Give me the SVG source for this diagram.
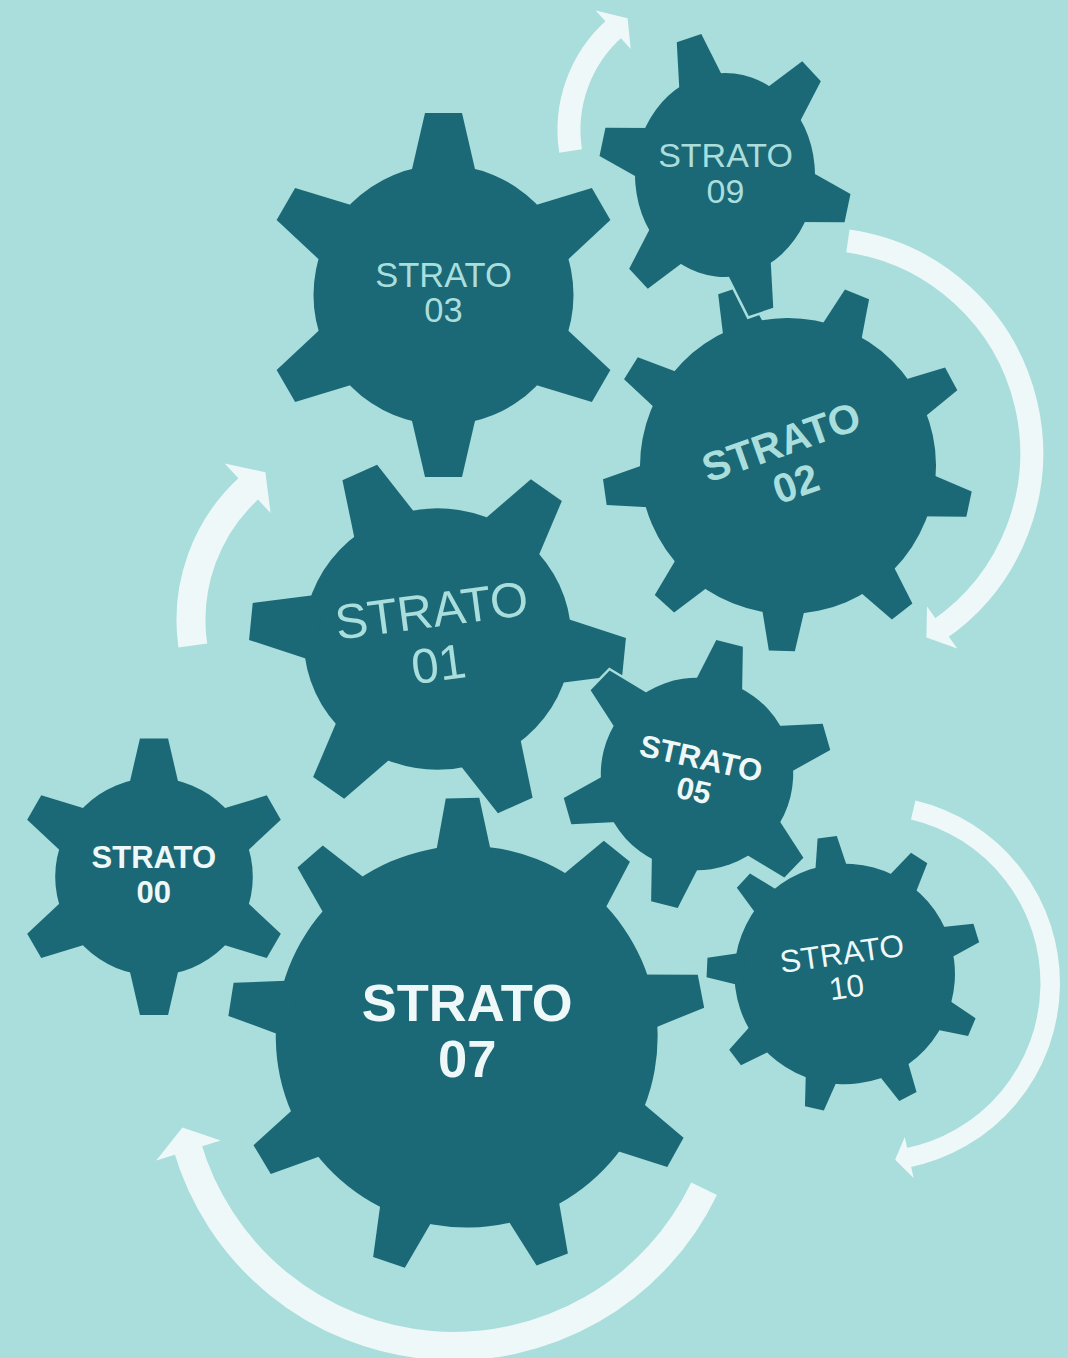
<svg xmlns="http://www.w3.org/2000/svg" width="1068" height="1358" viewBox="0 0 1068 1358">
<style>
.bg{fill:#a9dedc}
.gear-o{fill:#1b6876;stroke:#a9dedc;stroke-width:5}
.gear-f{fill:#1b6876;stroke:none}
.band{fill:none;stroke:#eef8f8;stroke-linecap:butt}
.head{fill:#eef8f8;stroke:none}
.t{font-family:"Liberation Sans",Arial,Helvetica,sans-serif;text-anchor:middle}
.lt{fill:#a9dedc}
.wt{fill:#eef8f8}
.b{font-weight:bold}
</style>
<defs>
<g id="g6">
<circle r="130" vector-effect="non-scaling-stroke"/>
<polygon points="-34,-115 -18.5,-182 18.5,-182 34,-115" vector-effect="non-scaling-stroke"/>
<polygon points="-34,-115 -18.5,-182 18.5,-182 34,-115" transform="rotate(60)" vector-effect="non-scaling-stroke"/>
<polygon points="-34,-115 -18.5,-182 18.5,-182 34,-115" transform="rotate(120)" vector-effect="non-scaling-stroke"/>
<polygon points="-34,-115 -18.5,-182 18.5,-182 34,-115" transform="rotate(180)" vector-effect="non-scaling-stroke"/>
<polygon points="-34,-115 -18.5,-182 18.5,-182 34,-115" transform="rotate(240)" vector-effect="non-scaling-stroke"/>
<polygon points="-34,-115 -18.5,-182 18.5,-182 34,-115" transform="rotate(300)" vector-effect="non-scaling-stroke"/>
</g>
<g id="g9">
<circle r="148" vector-effect="non-scaling-stroke"/>
<polygon points="-22.9,-135 -13,-185 13,-185 22.9,-135" vector-effect="non-scaling-stroke"/>
<polygon points="-22.9,-135 -13,-185 13,-185 22.9,-135" transform="rotate(40)" vector-effect="non-scaling-stroke"/>
<polygon points="-22.9,-135 -13,-185 13,-185 22.9,-135" transform="rotate(80)" vector-effect="non-scaling-stroke"/>
<polygon points="-22.9,-135 -13,-185 13,-185 22.9,-135" transform="rotate(120)" vector-effect="non-scaling-stroke"/>
<polygon points="-22.9,-135 -13,-185 13,-185 22.9,-135" transform="rotate(160)" vector-effect="non-scaling-stroke"/>
<polygon points="-22.9,-135 -13,-185 13,-185 22.9,-135" transform="rotate(200)" vector-effect="non-scaling-stroke"/>
<polygon points="-22.9,-135 -13,-185 13,-185 22.9,-135" transform="rotate(240)" vector-effect="non-scaling-stroke"/>
<polygon points="-22.9,-135 -13,-185 13,-185 22.9,-135" transform="rotate(280)" vector-effect="non-scaling-stroke"/>
<polygon points="-22.9,-135 -13,-185 13,-185 22.9,-135" transform="rotate(320)" vector-effect="non-scaling-stroke"/>
</g>
</defs>
<rect class="bg" x="0" y="0" width="1068" height="1358"/>

<g id="connectors">
<path class="band" stroke-width="23" d="M570.6,151 A136,136 0 0 1 614.9,28.1"/>
<polygon class="head" points="595.6,10.6 627.6,18.2 630.7,48.9"/>
<path class="band" stroke-width="23" d="M847.9,240.9 A214.4,214.4 0 0 1 939,629.6"/>
<polygon class="head" points="927,606.4 926.4,637.6 957.3,648.6"/>
<path class="band" stroke-width="29" d="M192.8,645.5 A179,179 0 0 1 250.5,486.8"/>
<polygon class="head" points="224.7,463.6 265.4,472.3 270.6,513.1"/>
<path class="band" stroke-width="19.5" d="M913.2,810 A178.1,178.1 0 0 1 906.2,1158.1"/>
<polygon class="head" points="904.8,1136.9 895.1,1159.8 913.6,1177.9"/>
<path class="band" stroke-width="28.5" d="M704.1,1188.8 A277.8,277.8 0 0 1 187,1145.8"/>
<polygon class="head" points="220.7,1140.5 182.4,1127.5 156.2,1160.4"/>
</g>

<g id="gear-03" transform="translate(443.5,295)">
<use href="#g6" class="gear-o"/>
<use href="#g6" class="gear-f"/>
<text class="t lt" font-size="34.5" x="0" y="-8.3">STRATO</text>
<text class="t lt" font-size="34.5" x="0" y="27.3">03</text>
</g>

<g id="gear-02" transform="translate(788,466)">
<use href="#g9" class="gear-o" transform="rotate(21.9)"/>
<use href="#g9" class="gear-f" transform="rotate(21.9)"/>
<g transform="translate(0.4,-3.6) rotate(-19.5)">
<text class="t lt b" font-size="41" x="0" y="-7.4">STRATO</text>
<text class="t lt b" font-size="41" x="0" y="36.5">02</text>
</g>
</g>

<g id="gear-09" transform="translate(725,175)">
<use href="#g6" class="gear-o" transform="scale(0.692,0.785) rotate(-16.6)"/>
<use href="#g6" class="gear-f" transform="scale(0.692,0.785) rotate(-16.6)"/>
<text class="t lt" font-size="34" x="0.5" y="-8.3">STRATO</text>
<text class="t lt" font-size="34" x="0.5" y="27.7">09</text>
</g>

<g id="gear-07" transform="translate(466.7,1036.7)">
<use href="#g9" class="gear-o" transform="rotate(-1) scale(1.29)"/>
<use href="#g9" class="gear-f" transform="rotate(-1) scale(1.29)"/>
<text class="t wt b" font-size="52.5" x="0.5" y="-16">STRATO</text>
<text class="t wt b" font-size="52.5" x="0.5" y="40">07</text>
</g>

<g id="gear-00" transform="translate(154,876.7)">
<use href="#g6" class="gear-o" transform="scale(0.76)"/>
<use href="#g6" class="gear-f" transform="scale(0.76)"/>
<text class="t wt b" font-size="31" x="-0.2" y="-8.4">STRATO</text>
<text class="t wt b" font-size="31" x="-0.2" y="26.6">00</text>
</g>

<g id="gear-01" transform="translate(437.5,639)">
<use href="#g6" class="gear-o" transform="scale(1.03,1.005) rotate(-24.5)"/>
<use href="#g6" class="gear-f" transform="scale(1.03,1.005) rotate(-24.5)"/>
<g transform="translate(-2.5,-2.5) rotate(-7.5)">
<text class="t lt" font-size="49" x="0" y="-9.5">STRATO</text>
<text class="t lt" font-size="49" x="0" y="44.5">01</text>
</g>
</g>

<g id="gear-10" transform="translate(844.7,974)">
<use href="#g9" class="gear-o" transform="rotate(-7.3) scale(0.745)"/>
<use href="#g9" class="gear-f" transform="rotate(-7.3) scale(0.745)"/>
<g transform="translate(-0.5,-4) rotate(-8)">
<text class="t wt" font-size="31.5" x="0" y="-5.8">STRATO</text>
<text class="t wt" font-size="31.5" x="0" y="28">10</text>
</g>
</g>

<g id="gear-05" transform="translate(697,774)">
<use href="#g6" class="gear-o" transform="rotate(14) scale(0.74)"/>
<use href="#g6" class="gear-f" transform="rotate(14) scale(0.74)"/>
<g transform="translate(0.5,0.2) rotate(12.5)">
<text class="t wt b" font-size="31" x="0" y="-5.7">STRATO</text>
<text class="t wt b" font-size="31" x="0" y="27.3">05</text>
</g>
</g>
</svg>
